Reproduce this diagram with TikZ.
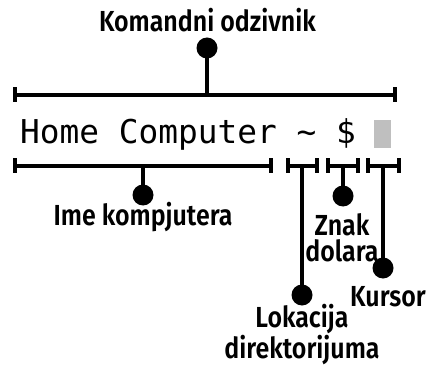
\documentclass[tikz,border=0pt]{standalone}
\usepackage{fontspec}
\setmainfont{Fira Sans SemiBold}[FakeStretch=0.86]
\setmonofont{DejaVu Sans Mono}
\begin{document}
\begin{tikzpicture}[x=1pt,y=-1pt,
  ln/.style={line width=4pt},
  tick/.style={line width=4pt},
  dot/.style={circle,fill=black,inner sep=0pt,minimum size=21pt},
  lbl/.style={font=\fontsize{29}{26.5}\selectfont,inner sep=0pt,align=center,anchor=base},
  mono/.style={font=\ttfamily\fontsize{32.8}{34}\selectfont,inner sep=0pt,anchor=base west}]
\useasboundingbox (0,0) rectangle (428,366);
% prompt text
\node[mono] (txt) at (20,144) {Home Computer \textasciitilde{} \$};
\fill[black!25] (374,120) rectangle (391,148);
% bar coordinates
\coordinate (tA) at (15,95);   \coordinate (tB) at (395,95);   \coordinate (tM) at (207,95);
\coordinate (cA) at (15,166);  \coordinate (cB) at (271,166);  \coordinate (cM) at (143,166);
\coordinate (lA) at (287.5,166); \coordinate (lB) at (317,166); \coordinate (lM) at (302,166);
\coordinate (dA) at (328,166); \coordinate (dB) at (357.5,166); \coordinate (dM) at (343,166);
\coordinate (kA) at (368,166); \coordinate (kB) at (398.5,166); \coordinate (kM) at (383,166);
% bars
\foreach \a/\b in {tA/tB,cA/cB,lA/lB,dA/dB,kA/kB}{
  \draw[ln] (\a) -- (\b);
  \draw[tick] (\a) ++(0,-7.5) -- ++(0,15);
  \draw[tick] (\b) ++(0,-7.5) -- ++(0,15);
}
% dots
\node[dot] (tD) at (207,48) {};
\node[dot] (cD) at (143,195) {};
\node[dot] (lD) at (302,295) {};
\node[dot] (dD) at (343,196) {};
\node[dot] (kD) at (383,268) {};
\draw[ln] (tM) -- (tD.center);
\draw[ln] (cM) -- (cD.center);
\draw[ln] (lM) -- (lD.center);
\draw[ln] (dM) -- (dD.center);
\draw[ln] (kM) -- (kD.center);
% labels
\node[lbl] (tL) at (207.5,31.7) {Komandni odzivnik};
\node[lbl] (cL) at (143,225) {Ime kompjutera};
\node[lbl] (dL) at (342,261.7) {Znak\\dolara};
\node[lbl] (kL) at (388,306.7) {Kursor};
\node[lbl] (lL) at (302,358) {Lokacija\\direktorijuma};
\end{tikzpicture}
\end{document}
